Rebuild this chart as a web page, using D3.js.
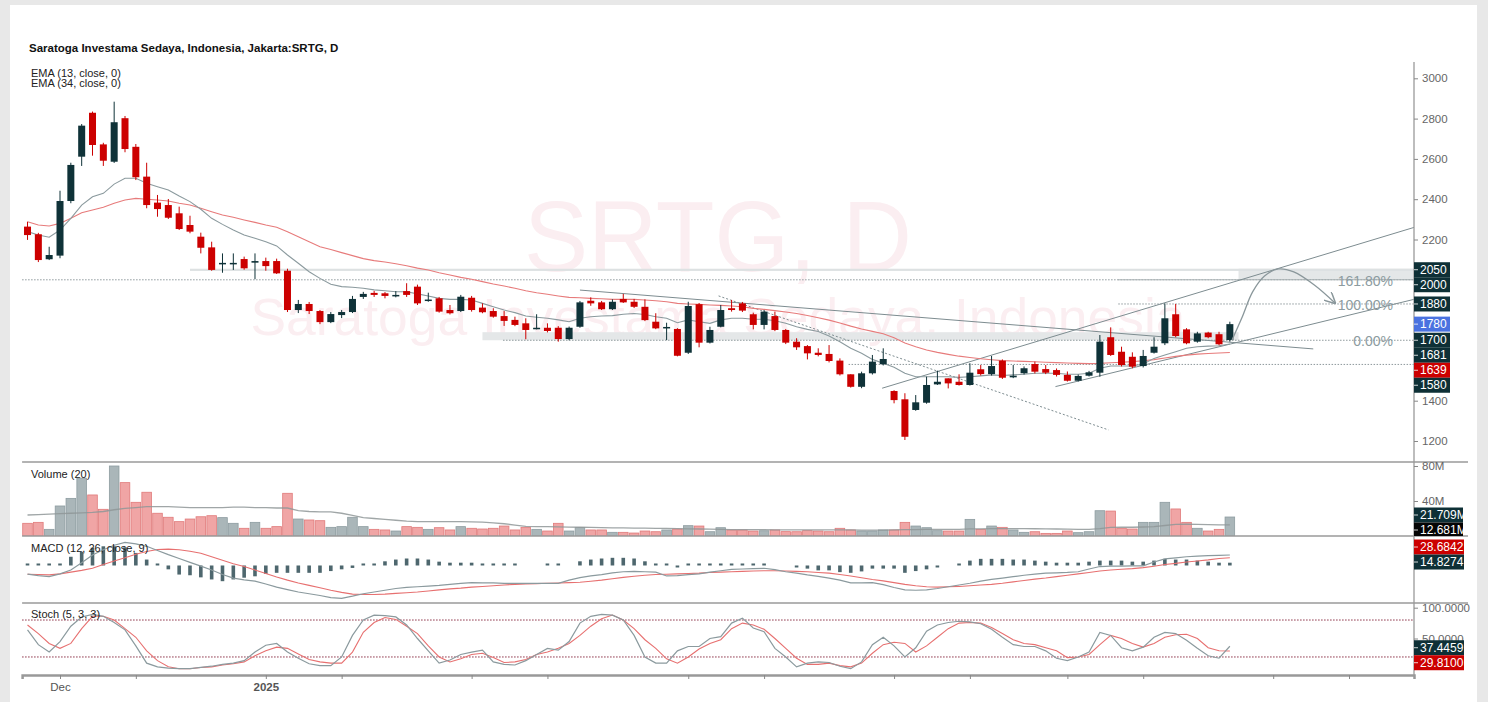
<!DOCTYPE html>
<html><head><meta charset="utf-8">
<script src="https://cdn.jsdelivr.net/npm/d3@7"></script>
<style>
body{margin:0;background:#fff;}
svg text{font-family:"Liberation Sans",Arial,sans-serif;}
</style>
</head><body>
<svg id="c" width="1488" height="702"></svg>
<script>
// ---------------- DATA ----------------
const opens = [2264,2226,2102,2120,2391,2611,2829,2672,2586,2802, 2660,2512,2383,2371,2330,2272,2214,2161,2080,2080, 2103,2085,2093,2093,2045,1850,1880,1845,1790,1825, 1840,1915,1935,1933,1920,1944,1966,1898,1908,1850, 1845,1911,1862,1845,1820,1801,1784,1757,1762,1762, 1706,1767,1896,1888,1854,1905,1891,1866,1792,1762, 1756,1638,1879,1688,1767,1859,1883,1829,1776,1820, 1751,1693,1671,1638,1632,1599,1531,1469,1536,1581, 1448,1407,1354,1390,1481,1511,1494,1478,1556,1532, 1599,1516,1536,1582,1557,1552,1528,1499,1524,1539, 1715,1643,1618,1572,1638,1685,1829,1754,1693,1738, 1730,1701];
const highs = [2288,2233,2164,2442,2581,2773,2835,2680,2884,2813, 2674,2581,2421,2401,2363,2318,2234,2189,2131,2131, 2115,2131,2110,2105,2055,1900,1890,1850,1840,1850, 1920,1940,1945,1939,1944,1983,1976,1936,1915,1875, 1925,1920,1883,1859,1845,1817,1809,1829,1784,1770, 1768,1895,1913,1895,1903,1930,1905,1903,1834,1787, 1760,1891,1885,1767,1875,1900,1890,1837,1850,1842, 1756,1710,1676,1660,1676,1610,1531,1544,1627,1660, 1452,1437,1428,1519,1549,1511,1531,1586,1577,1622, 1605,1577,1570,1594,1577,1560,1545,1530,1548,1726, 1764,1668,1640,1652,1715,1883,1880,1760,1742,1742, 1742,1792];
const lows = [2198,2088,2098,2107,2380,2565,2616,2565,2580,2633, 2495,2355,2313,2302,2247,2231,2131,2045,2035,2049, 2050,2003,2045,2029,1840,1835,1830,1780,1785,1810, 1835,1905,1915,1908,1913,1915,1875,1891,1837,1828, 1840,1842,1834,1812,1771,1770,1705,1754,1739,1693, 1700,1762,1871,1850,1850,1885,1860,1795,1755,1701, 1620,1632,1665,1684,1764,1842,1840,1754,1754,1745, 1681,1652,1605,1620,1590,1525,1465,1462,1530,1575, 1387,1205,1350,1385,1478,1461,1475,1475,1525,1525, 1508,1512,1530,1535,1532,1520,1495,1495,1520,1519, 1622,1570,1561,1565,1634,1676,1715,1680,1688,1710, 1675,1693];
const closes = [2222,2098,2123,2391,2570,2765,2669,2591,2782,2649, 2509,2371,2351,2308,2252,2239,2159,2049,2084,2084, 2057,2093,2068,2032,1850,1880,1845,1790,1830,1840, 1905,1930,1925,1920,1925,1925,1883,1902,1842,1834, 1916,1850,1839,1817,1796,1776,1751,1762,1746,1706, 1762,1888,1883,1854,1891,1888,1866,1800,1759,1766, 1623,1870,1688,1751,1850,1850,1847,1776,1842,1751, 1688,1665,1635,1627,1597,1531,1469,1536,1594,1607, 1403,1221,1392,1478,1494,1486,1478,1539,1532,1572, 1514,1524,1561,1544,1539,1528,1499,1523,1541,1693, 1627,1577,1569,1622,1668,1809,1721,1685,1734,1715, 1680,1780];
const ema13 = [2239,2222,2211,2247,2305,2371,2412,2429,2475,2504, 2504,2479,2462,2446,2416,2388,2350,2305,2275,2247, 2222,2206,2189,2168,2123,2082,2040,2007,1978,1966, 1963,1958,1950,1946,1941,1941,1930,1920,1908,1903, 1903,1900,1883,1866,1850,1837,1820,1814,1809,1801, 1792,1809,1817,1820,1822,1829,1833,1828,1817,1809, 1787,1801,1792,1784,1801,1809,1809,1804,1804,1797, 1784,1767,1754,1743,1721,1693,1660,1635,1605,1586, 1566,1536,1519,1519,1519,1519,1516,1519,1523,1528, 1525,1528,1531,1536,1536,1536,1531,1531,1536,1561, 1572,1572,1572,1582,1610,1627,1643,1660,1668,1671, 1673,1681];
const ema34 = [2288,2272,2267,2280,2305,2333,2346,2360,2380,2396, 2404,2400,2396,2391,2380,2371,2355,2338,2322,2310, 2297,2285,2272,2261,2239,2214,2189,2164,2150,2135, 2120,2105,2095,2088,2080,2070,2058,2049,2035,2024, 2012,2003,1991,1979,1969,1958,1946,1936,1928,1920, 1913,1911,1908,1906,1903,1903,1903,1900,1896,1891, 1883,1880,1878,1875,1873,1870,1866,1858,1853,1847, 1840,1833,1823,1812,1800,1786,1770,1756,1744,1732, 1712,1686,1668,1652,1640,1630,1621,1614,1608,1603, 1599,1597,1595,1593,1591,1589,1587,1585,1584,1585, 1588,1591,1594,1598,1604,1612,1620,1626,1631,1634, 1637,1639];
const volumes = [14.5,15.6,7.6,34.3,43,66,46.9,30.5,80,61, 38.5,50,26,21.4,16.4,19.4,22,23.2,21,14.5, 8.8,15.6,8.8,10.7,48.8,19.4,18.3,17.5,9.9,10.7, 21.4,10.7,7.6,6.9,5.7,10.7,9.9,7.6,9.5,6.9, 10.7,8.8,8,8.8,11.4,6.9,9.9,7.6,5.7,14.5, 5.7,9.5,6.9,6.9,4.2,4.2,3.4,5.7,4.9,6.9, 8,11.8,11.4,4.9,9.5,6.9,6.9,5.7,6,6.9, 5,4.9,6.1,5.7,4.9,8.8,6.9,5.7,5.7,6.9, 6.9,15.6,11.4,9.5,6.1,5.7,5.7,19,7.6,11.4, 9.9,6.9,4.2,4.9,3,3,5.7,3.8,4.9,28.9, 28.5,8.8,8,15.6,15.6,38.5,30.9,15.6,8.8,5.7, 7.6,21.7];
const volumeMA = [24,24.5,25,25.5,26,26.5,27,28,30,31.5, 32.5,33.5,33.5,33.5,33,32.5,32.5,32.5,32.5,33, 33,32.5,32.5,32,32,29,28,27.5,27.5,26, 23.5,21,20,19,18,17,16.5,16.4,16.4,16.4, 16.4,16.2,15.8,15,14,12.5,11,10.8,10.6,10.4, 10.2,10,9.8,9.6,9.4,9.2,9,8.9,8.8,8.6, 8.4,8.2,8,7.8,7.6,7.4,7.3,7.2,7.2,7.1, 7,7,7,6.9,6.9,6.9,6.9,6.8,6.8,6.8, 6.9,7.2,7.4,7.5,7.5,7.5,7.6,8.2,8.2,8.4, 8.5,8.5,8.4,8.3,8.2,8,7.8,7.6,7.5,8.5, 9.8,10,10,10.3,10.8,12,13.2,13.4,13.2,12.9, 12.7,12.7];
const macdLine = [-25,-29,-32,-24,-13,8,30,45,58,66, 62,55,43,31,20,9,-2,-13,-26,-36, -41,-45,-53,-62,-69,-76,-81,-86,-92,-94, -88,-81,-76,-71,-66,-63,-61,-59,-57,-54, -51,-49,-50,-50,-51,-51,-51,-51,-51,-51, -42,-35,-30,-26,-21,-18,-17,-18,-19,-30, -29,-26,-24,-19,-15,-11,-10,-9,-8,-12, -18,-22,-27,-31,-36,-42,-50,-50,-49,-55, -63,-70,-71,-70,-66,-61,-56,-51,-45,-40, -36,-32,-28,-25,-22,-21,-20,-18,-10,-3, -2,-2,-1,-1,10,19,22,25,27,28, 29,30];
const macdSignal = [-25,-26,-27,-24,-19,-14,-8,3,13,22, 32,40,46,47,45,41,35,25,15,5, -3,-13,-23,-33,-42,-50,-57,-64,-71,-77, -82,-83,-83,-82,-80,-78,-76,-73,-70,-67, -65,-62,-60,-58,-56,-54,-53,-52,-51,-50, -49,-48,-45,-42,-38,-34,-31,-28,-26,-25, -24,-23,-22,-20,-19,-18,-17,-16,-15,-15, -16,-17,-18,-20,-22,-26,-30,-35,-40,-44, -49,-54,-58,-61,-62,-61,-60,-58,-56,-54, -51,-47,-43,-39,-36,-32,-28,-24,-20,-16, -13,-11,-9,-6,-2,3,6,10,13,16, 20,22];
const macdHist = [1,1,1,1,25,39,51,55,55,52, 36,17,1,-11,-26,-28,-34,-40,-45,-40, -35,-31,-24,-21,-21,-21,-21,-21,-16,-11, -7,1,1,12,17,20,20,17,11,8, 8,8,5,3,1,1,0,0,1,1, 0,12,17,20,22,22,20,12,5,1, -5,1,1,1,1,3,5,5,5,0, 0,-5,-9,-14,-14,-19,-21,-17,-9,-9, -9,-21,-16,-11,-3,0,2,14,19,19, 19,17,17,14,11,8,8,8,11,14, 14,14,11,11,14,19,17,17,14,11, 8,8];
const stochK = [64,40,28,45,70,85,89,86,76,64, 38,10,4,2,1,1,3,5,8,10, 14,28,39,42,28,18,9,6,6,20, 55,80,88,87,85,72,50,30,10,15, 24,28,31,12,8,7,14,24,34,31, 45,75,86,89,88,80,55,20,10,10, 30,37,37,50,53,75,83,67,61,34, 20,4,10,12,11,5,1,12,40,52, 38,20,35,62,72,76,78,77,74,65, 52,40,37,37,30,18,14,20,28,60, 55,35,30,36,52,60,58,47,34,22, 18,37.4];
const stochD = [72,58,42,34,42,66,86,86,80,66, 52,30,14,4,1,1,3,4,7,9, 12,22,30,36,34,25,16,12,10,10, 28,60,76,84,81,70,58,38,20,12, 17,24,26,19,11,12,16,24,28,34, 42,55,70,82,88,80,66,48,34,17, 10,20,33,42,48,66,75,72,65,50, 34,18,8,8,10,6,4,10,26,40, 44,42,28,38,52,66,75,76,75,68, 58,48,42,40,35,30,19,20,24,40, 55,50,42,36,42,52,56,57,50,35, 30,29.8];

// axis tick labels (those fully hidden behind price markers in the reference are left out)
const priceTicks = [1200,1400,2200,2400,2600,2800,3000];
const volumeTicks = [40,80];
const stochTicks = [50,100];
const xTickIdx = [3,10,22,29,41,48,61,68,80,87,96,103,115,122];
const xTickLabels = ["Dec","","2025","","","","","","","","","","",""];

const priceMarkers = [
  {v:2050, t:"2050", c:"#0e3036"},{v:2000, t:"2000", c:"#0e3036"},
  {v:1880, t:"1880", c:"#0e3036"},{v:1780, t:"1780", c:"#4a72e0"},
  {v:1700, t:"1700", c:"#0e3036"},{v:1681, t:"1681", c:"#0e3036"},
  {v:1639, t:"1639", c:"#cc0000"},{v:1580, t:"1580", c:"#0e3036"}];
const volMarkers = [{v:21.709, t:"21.709M", c:"#0e3036"},{v:12.681, t:"12.681M", c:"#050505"}];
const macdMarkers = [{v:30, t:"28.6842", c:"#cc0000"},{v:22, t:"14.8274", c:"#0e3036"}];
const stochMarkers = [{v:37.4459, t:"37.4459", c:"#0e3036"},{v:29.81, t:"29.8100", c:"#cc0000"}];

// drawings (index, price)
const trendSolid = [[51.0,1949],[118.7,1657]];
const trendDotted = [[63.8,1920],[99.8,1255]];
const channelUpper = [[78.9,1462],[128,2260]];
const channelLower = [[94.9,1470],[128,1903]];
const projection = [[111.2,1701],[112.1,1810],[113.1,1940],[114.2,2019],[115.5,2054],[116.9,2039],[118.8,1974],[120.7,1885]];
const fibLevels = [{p:2000,t:"161.80%"},{p:1880,t:"100.00%"},{p:1700,t:"0.00%"}];

// ---------------- LAYOUT ----------------
const svg = d3.select("#c");
const L = 22.1, R = 1414;
const x = d3.scaleLinear().domain([-0.5,128]).range([L,R]);
const yP = d3.scaleLinear().domain([1200,3000]).range([441,78.3]);
const yV = d3.scaleLinear().domain([0,80]).range([536,466]);
const yM = d3.scaleLinear().domain([-107.5,84.5]).range([603,536]);
const yS = d3.scaleLinear().domain([0,100]).range([669.3,607.7]);
const panes = {main:[62,462], vol:[462,536], macd:[536,603], stoch:[603,675]};

svg.append("rect").attr("width",1488).attr("height",702).attr("fill","#e8e8e8");
svg.append("rect").attr("x",10).attr("y",5).attr("width",1467).attr("height",697).attr("fill","#fff");

const defs = svg.append("defs");
Object.entries(panes).forEach(([k,[a,b]])=>{
  defs.append("clipPath").attr("id","clip-"+k).append("rect")
    .attr("x",L).attr("y",a).attr("width",R-L).attr("height",b-a);
});
const ar = defs.append("marker").attr("id","arr").attr("viewBox","0 0 10 10").attr("refX",9).attr("refY",5)
  .attr("markerWidth",9).attr("markerHeight",9).attr("orient","auto");
ar.append("path").attr("d","M0,0 L10,5 L0,10").attr("fill","none").attr("stroke","#8a979b").attr("stroke-width",1.3);

// watermark
svg.append("text").attr("x",718).attr("y",271).attr("text-anchor","middle")
  .attr("font-size",100).attr("fill","#fbeef1").attr("textLength",388).attr("lengthAdjust","spacingAndGlyphs").text("SRTG, D");
svg.append("text").attr("x",718).attr("y",335).attr("text-anchor","middle")
  .attr("font-size",52).attr("fill","#fbeef1").attr("textLength",935).attr("lengthAdjust","spacingAndGlyphs").text("Saratoga Investama Sedaya, Indonesia");

// title
svg.append("text").attr("x",29).attr("y",52).attr("font-size",11.5).attr("font-weight","bold").attr("fill","#111")
  .text("Saratoga Investama Sedaya, Indonesia, Jakarta:SRTG, D");
svg.append("text").attr("x",31).attr("y",77).attr("font-size",11).attr("fill","#222").text("EMA (13, close, 0)");
svg.append("text").attr("x",31).attr("y",86.5).attr("font-size",11).attr("fill","#222").text("EMA (34, close, 0)");

// ---------------- MAIN PANE ----------------
const gM = svg.append("g").attr("clip-path","url(#clip-main)");
gM.append("rect").attr("x",x(42)).attr("y",yP(1740)).attr("width",x(111.8)-x(42)).attr("height",yP(1700)-yP(1740)).attr("fill","#e4e7e8");
gM.append("rect").attr("x",x(111.8)).attr("y",yP(2055)).attr("width",R-x(111.8)).attr("height",yP(2000)-yP(2055)).attr("fill","#e4e7e8");
gM.append("rect").attr("x",x(15)).attr("y",yP(2055)).attr("width",R-x(15)).attr("height",2.2).attr("fill","#dde1e2");
const hl = (p,i0,dash)=>gM.append("line").attr("x1",x(i0)).attr("x2",R).attr("y1",yP(p)).attr("y2",yP(p))
  .attr("stroke","#8e999c").attr("stroke-width",1).attr("stroke-dasharray",dash);
hl(2000,-0.5,"1.5,1.5"); hl(1700,43.9,"1.5,1.5"); hl(1580,75.8,"1.5,1.5"); hl(1880,100.7,"1.5,1.5");
hl(2000,100.7,"1.5,1.5");

const seg = (pts,dash,w)=>gM.append("path").attr("d",d3.line().x(d=>x(d[0])).y(d=>yP(d[1]))(pts))
  .attr("fill","none").attr("stroke","#7d8c90").attr("stroke-width",w||1).attr("stroke-dasharray",dash||null);
seg(trendSolid); seg(trendDotted,"2,2"); seg(channelUpper); seg(channelLower);

const lineP = d3.line().x((d,i)=>x(i)).y(d=>yP(d));
gM.append("path").attr("d",lineP(ema34)).attr("fill","none").attr("stroke","#e77b7b").attr("stroke-width",1.1);
gM.append("path").attr("d",lineP(ema13)).attr("fill","none").attr("stroke","#8b9a9e").attr("stroke-width",1.1);

const idx = d3.range(closes.length);
const up = i=>closes[i]>=opens[i];
const cUp="#0f3238", cDn="#cc0000";
gM.selectAll(".wick").data(idx).join("line").attr("x1",i=>x(i)).attr("x2",i=>x(i))
  .attr("y1",i=>yP(highs[i])).attr("y2",i=>yP(lows[i])).attr("stroke",i=>up(i)?cUp:cDn).attr("stroke-width",1);
gM.selectAll(".body").data(idx).join("rect").attr("x",i=>x(i)-3.5).attr("width",7)
  .attr("y",i=>yP(Math.max(opens[i],closes[i])))
  .attr("height",i=>Math.max(1.5,Math.abs(yP(opens[i])-yP(closes[i]))))
  .attr("fill",i=>up(i)?cUp:cDn);

gM.append("path").attr("d",d3.line().curve(d3.curveCatmullRom).x(d=>x(d[0])).y(d=>yP(d[1]))(projection))
  .attr("fill","none").attr("stroke","#8a979b").attr("stroke-width",1.3).attr("marker-end","url(#arr)");

fibLevels.forEach(f=>{
  svg.append("text").attr("x",1393).attr("y",yP(f.p)+6).attr("text-anchor","end").attr("font-size",14)
    .attr("fill","#8c9ba0").text(f.t);
});

// ---------------- VOLUME ----------------
const gV = svg.append("g").attr("clip-path","url(#clip-vol)");
gV.selectAll("rect").data(idx).join("rect").attr("x",i=>x(i)-4.8).attr("width",9.6)
  .attr("y",i=>yV(volumes[i])).attr("height",i=>yV(0)-yV(volumes[i]))
  .attr("fill",i=>up(i)?"#aab6b9":"#f0a5a5").attr("stroke",i=>up(i)?"#8d9ca0":"#e07a7a").attr("stroke-width",0.8);
gV.append("path").attr("d",d3.line().x((d,i)=>x(i)).y(d=>yV(d))(volumeMA)).attr("fill","none")
  .attr("stroke","#8f9698").attr("stroke-width",1.3).attr("opacity",0.85);
svg.append("text").attr("x",31).attr("y",478).attr("font-size",11).attr("fill","#222").text("Volume (20)");

// ---------------- MACD ----------------
const gMa = svg.append("g").attr("clip-path","url(#clip-macd)");
gMa.selectAll("rect").data(idx.filter(i=>macdHist[i]!==0)).join("rect")
  .attr("x",i=>x(i)-1.8).attr("width",3.6)
  .attr("y",i=>{const h=Math.max(2,Math.abs(yM(macdHist[i])-yM(0)));return macdHist[i]>0?yM(0)-h:yM(0);})
  .attr("height",i=>Math.max(2,Math.abs(yM(macdHist[i])-yM(0)))).attr("fill","#4e676e");
const lineM = d3.line().x((d,i)=>x(i)).y(d=>yM(d));
gMa.append("path").attr("d",lineM(macdSignal)).attr("fill","none").attr("stroke","#e77070").attr("stroke-width",1.1);
gMa.append("path").attr("d",lineM(macdLine)).attr("fill","none").attr("stroke","#8b9a9e").attr("stroke-width",1.2);
svg.append("text").attr("x",31).attr("y",552).attr("font-size",11).attr("fill","#222").text("MACD (12, 26, close, 9)");

// ---------------- STOCH ----------------
const gS = svg.append("g").attr("clip-path","url(#clip-stoch)");
[80,20].forEach(v=>gS.append("line").attr("x1",L).attr("x2",R).attr("y1",yS(v)).attr("y2",yS(v))
  .attr("stroke","#8b2f45").attr("stroke-width",1).attr("stroke-dasharray","1.5,1.5"));
const lineS = d3.line().x((d,i)=>x(i)).y(d=>yS(d));
gS.append("path").attr("d",lineS(stochD)).attr("fill","none").attr("stroke","#e77070").attr("stroke-width",1.1);
gS.append("path").attr("d",lineS(stochK)).attr("fill","none").attr("stroke","#8b9a9e").attr("stroke-width",1.2);
svg.append("text").attr("x",31).attr("y",618).attr("font-size",11).attr("fill","#222").text("Stoch (5, 3, 3)");

// ---------------- AXES ----------------
[462,536,603].forEach(y=>svg.append("line").attr("x1",L).attr("x2",1468).attr("y1",y).attr("y2",y)
  .attr("stroke","#9a9a9a").attr("stroke-width",1.3));
svg.append("line").attr("x1",R).attr("x2",R).attr("y1",62).attr("y2",676).attr("stroke","#9a9a9a").attr("stroke-width",1.3);

function rightAxis(scale, ticks, fmt, dy){
  const g = svg.append("g").attr("transform",`translate(${R},0)`)
    .call(d3.axisRight(scale).tickValues(ticks).tickSize(4).tickPadding(4).tickFormat(fmt));
  g.select(".domain").remove();
  g.selectAll("line").attr("stroke","#888");
  g.selectAll("text").attr("font-size",11.5).attr("fill","#666").attr("font-family","Liberation Sans, Arial, sans-serif");
  if(dy) g.selectAll("text").attr("dy",dy);
}
rightAxis(yP, priceTicks, d3.format("d"));
rightAxis(yV, volumeTicks, d=>d+"M");
rightAxis(yS, stochTicks, d3.format(".4f"));

function markers(list, scale, w, clipTop, clipBot){
  let prev=-1e9; const h=15;
  const ys = list.map(m=>scale(m.v)).map(v=>{const y=Math.max(v,prev+h); prev=y; return y;});
  const g = svg.append("g");
  if(clipTop!==undefined){
    const id="mk"+Math.round(clipTop);
    defs.append("clipPath").attr("id",id).append("rect").attr("x",R).attr("y",clipTop).attr("width",80).attr("height",clipBot-clipTop);
    g.attr("clip-path",`url(#${id})`);
  }
  list.forEach((m,k)=>{
    g.append("rect").attr("x",R).attr("y",ys[k]-7.5).attr("width",w).attr("height",h).attr("fill",m.c);
    g.append("line").attr("x1",R).attr("x2",R+4).attr("y1",ys[k]).attr("y2",ys[k]).attr("stroke","#fff").attr("stroke-width",0.8);
    g.append("text").attr("x",R+6).attr("y",ys[k]+4.2).attr("font-size",12).attr("fill","#fff").text(m.t);
  });
}
markers(priceMarkers, yP, 36);
markers(volMarkers, v=>yV(v)-2, 49, 462, 536);
markers(macdMarkers, v=>yM(v)-8, 50);
markers(stochMarkers, v=>yS(v)+1.5, 50);

const gx = svg.append("g").attr("transform","translate(0,675)")
  .call(d3.axisBottom(x).tickValues(xTickIdx).tickSize(4).tickPadding(4).tickFormat((d,k)=>xTickLabels[k]));
gx.select(".domain").attr("stroke","#999").attr("stroke-width",2.5);
gx.selectAll("line").attr("stroke","#888");
gx.selectAll("text").attr("font-size",11.5).attr("fill","#555").attr("font-family","Liberation Sans, Arial, sans-serif")
  .attr("font-weight",(d,k)=>xTickLabels[k]==="2025"?"bold":"normal");
</script>
</body></html>
